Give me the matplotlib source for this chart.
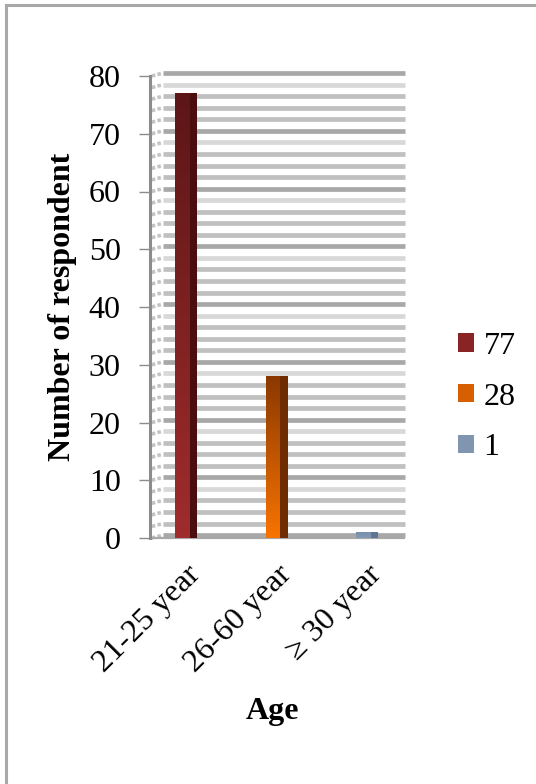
import matplotlib.pyplot as plt
import numpy as np
from matplotlib.colors import LinearSegmentedColormap
from matplotlib.patches import Patch

# 数据
categories = ['21-25 year', '26-60 year', '≥ 30 year']
series_labels = ['77', '28', '1']
counts = [77, 28, 1]
# 每个柱子: 正面顶部色, 正面底部色, 侧面色
front_top = ['#5c1616', '#8a3800', '#7890ac']
front_bottom = ['#a02c2c', '#f87400', '#8499b4']
side_color = ['#4a0e0e', '#6e2c00', '#5e7594']
legend_color = ['#8a2424', '#d85f00', '#8096b0']

fs = 23
plt.rcParams['font.family'] = ['Liberation Serif', 'DejaVu Serif']
fig = plt.figure(figsize=(5.36, 7.84), dpi=100)
ax = fig.add_axes([150 / 536, 1 - 538 / 784, 255 / 536, 462 / 784])
x0, x1 = -0.4, 2.42
ax.set_xlim(x0, x1)
ax.set_ylim(0, 80)

# 背景墙网格带
grid_vals = np.arange(0, 81, 2)
for v in grid_vals:
    if v % 10 == 0:
        c = '#a8a8a8'
    elif v % 10 == 8:
        c = '#d8d8d8'
    else:
        c = '#c0c0c0'
    ax.hlines(v + 0.5, -0.255, x1, colors=c, linewidth=3.4, zorder=1, clip_on=False)
    # 左侧墙的透视网格
    ax.plot([x0 + 0.02, -0.26], [v, v + 0.5], color='#c4c4c4', linewidth=2.6,
            linestyle=(0, (1, 0.6)), zorder=1, clip_on=False)

# 地板边线
ax.hlines(0, x0, x1, colors='#a8a8a8', linewidth=1.6, zorder=2, clip_on=False)

# 3D 柱子: 正面渐变 + 暗色侧面
front_w = 0.165
side_w = 0.08
xs = np.arange(len(categories))
for i, (xc, v) in enumerate(zip(xs, counts)):
    left = xc - (front_w + side_w) / 2
    bar = ax.bar(left, v, width=front_w, align='edge', color='none',
                 edgecolor='none', zorder=3, label=series_labels[i])[0]
    cmap = LinearSegmentedColormap.from_list('g%d' % i, [front_bottom[i], front_top[i]])
    grad = np.linspace(0, 1, 256).reshape(-1, 1)
    im = ax.imshow(grad, cmap=cmap, origin='lower', aspect='auto',
                   extent=[left, left + front_w, 0, v], zorder=3)
    im.set_clip_path(bar)
    ax.bar(left + front_w, v, width=side_w, align='edge', color=side_color[i],
           edgecolor='none', zorder=3)

ax.set_xlim(x0, x1)
ax.set_ylim(0, 80)

# 坐标轴
for s in ['top', 'right', 'bottom']:
    ax.spines[s].set_visible(False)
ax.spines['left'].set_color('#8c8c8c')
ax.spines['left'].set_linewidth(2.2)
ax.set_yticks(range(0, 81, 10))
ax.tick_params(axis='y', length=8, width=1, color='#8c8c8c', pad=13, labelsize=fs)
ax.set_xticks(xs)
ax.set_xticklabels(categories, rotation=45, ha='right', va='top',
                   rotation_mode='anchor', fontsize=fs)
ax.tick_params(axis='x', length=0, pad=16)

ax.set_ylabel('Number of respondent', fontsize=fs, fontweight='bold')
ax.yaxis.set_label_coords(-0.345, 0.5)
ax.yaxis.label.set_verticalalignment('center')
fig.text(272 / 536, 1 - 712 / 784, 'Age', fontsize=fs, fontweight='bold',
         ha='center', va='center')

handles = [Patch(facecolor=c, edgecolor='none') for c in legend_color]
fig.legend(handles, series_labels, loc='center left',
           bbox_to_anchor=(458 / 536, 1 - 397 / 784), frameon=False,
           fontsize=fs, handlelength=0.5, handleheight=0.5,
           handletextpad=0.3, labelspacing=0.68, borderpad=0, borderaxespad=0)

# 图表外框 (上边和左边)
fig.add_artist(plt.Line2D([6 / 536, 1], [1 - 5 / 784, 1 - 5 / 784],
                          color='#a8a8a8', linewidth=2.2))
fig.add_artist(plt.Line2D([6 / 536, 6 / 536], [0, 1 - 5 / 784],
                          color='#a8a8a8', linewidth=2.2))

fig.savefig('out.png', dpi=100)
